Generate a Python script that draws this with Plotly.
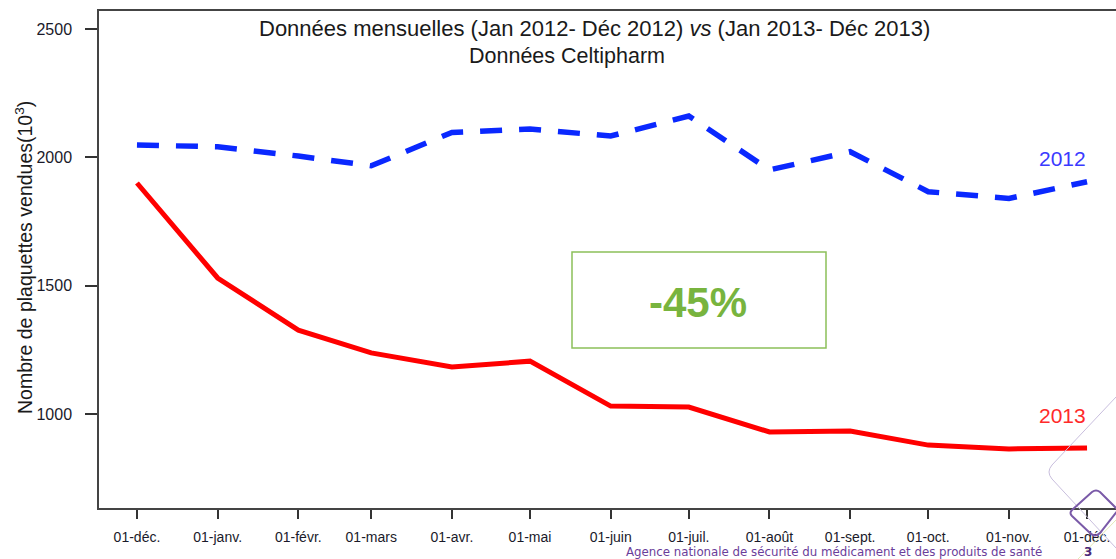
import plotly.graph_objects as go

# Monthly dates (first day of each month) shared by both series
mois = ["2012-12-01", "2013-01-01", "2013-02-01", "2013-03-01", "2013-04-01",
        "2013-05-01", "2013-06-01", "2013-07-01", "2013-08-01", "2013-09-01",
        "2013-10-01", "2013-11-01", "2013-12-01"]
etiquettes_mois = ["01-déc.", "01-janv.", "01-févr.", "01-mars", "01-avr.", "01-mai",
                   "01-juin", "01-juil.", "01-août", "01-sept.", "01-oct.", "01-nov.",
                   "01-déc."]

# Plaquettes vendues (milliers)
ventes_2012 = [2048, 2041, 2005, 1967, 2097, 2110, 2083, 2161, 1951, 2022, 1866, 1840, 1905]
ventes_2013 = [1900, 1530, 1327, 1238, 1183, 1206, 1031, 1027, 930, 934, 879, 864, 868]

y_ticks = [1000, 1500, 2000, 2500]

W, H = 1116, 559
L, R, T, B = 99, 0, 11, 51
PW, PH = W - L - R, H - T - B


def px(x):
    return (x - L) / PW


def py(y):
    return (H - B - y) / PH


FONT = "Liberation Sans, Arial, sans-serif"
FONT_PIED = "DejaVu Sans, Verdana, sans-serif"

fig = go.Figure()
fig.add_trace(go.Scatter(
    x=mois, y=ventes_2012, mode="lines", name="2012",
    line=dict(color="#0a28ff", width=5.5, dash="22px,17px"),
))
fig.add_trace(go.Scatter(
    x=mois, y=ventes_2013, mode="lines", name="2013",
    line=dict(color="#ff0000", width=5),
))

annotations = [
    dict(text="Données mensuelles (Jan 2012- Déc 2012) <i>vs</i> (Jan 2013- Déc 2013)",
         x=px(594), y=py(28), font=dict(size=22, color="#1a1a1a")),
    dict(text="Données Celtipharm",
         x=px(567), y=py(56), font=dict(size=21.5, color="#1a1a1a")),
    dict(text="Nombre de plaquettes vendues(10<sup>3</sup>)", textangle=-90,
         x=px(24), y=py(258), font=dict(size=19.5, color="#1a1a1a")),
    dict(text="2012", x=px(1062), y=py(159), font=dict(size=21, color="#3a3aff")),
    dict(text="2013", x=px(1062), y=py(415), font=dict(size=21, color="#ff2a2a")),
    dict(text="<b>-45%</b>", x=px(698), y=py(302), font=dict(size=42, color="#78b43e")),
    dict(text="Agence nationale de sécurité du médicament et des produits de santé",
         x=px(834), y=py(552), font=dict(size=11.8, color="#6a3d9a", family=FONT_PIED)),
    dict(text="<b>3</b>", x=px(1088), y=py(552),
         font=dict(size=12, color="#4b2a78", family=FONT_PIED)),
]
for a in annotations:
    a.update(xref="paper", yref="paper", showarrow=False, xanchor="center",
             yanchor="middle")
    a["font"].setdefault("family", FONT)

shapes = [
    # boîte du pourcentage
    dict(type="rect", xref="paper", yref="paper",
         x0=px(572), x1=px(826), y0=py(348), y1=py(252),
         line=dict(color="#8cc05a", width=1.5), fillcolor="rgba(0,0,0,0)"),
    # décor du bas de diapositive
    dict(type="path", xref="paper", yref="paper", layer="above",
         path=(f"M {px(1116)} {py(397)} L {px(1052)} {py(465)} "
               f"Q {px(1046)} {py(472)} {px(1052)} {py(479)} L {px(1116)} {py(548)}"),
         line=dict(color="#c8bedd", width=1)),
    dict(type="path", xref="paper", yref="paper", layer="above",
         path=(f"M {px(1092)} {py(492)} Q {px(1096)} {py(489)} {px(1100)} {py(492)} "
               f"L {px(1118)} {py(510)} L {px(1100)} {py(533)} "
               f"Q {px(1095)} {py(538)} {px(1090)} {py(533)} L {px(1072)} {py(516)} "
               f"Q {px(1069)} {py(513)} {px(1072)} {py(510)} Z"),
         line=dict(color="#7a5aa8", width=2)),
    dict(type="path", xref="paper", yref="paper", layer="above",
         path=f"M {px(1116)} {py(520)} L {px(1078)} {py(559)}",
         line=dict(color="#e3eab8", width=1)),
]

fig.update_layout(
    width=W, height=H,
    margin=dict(l=L, r=R, t=T, b=B, pad=0),
    paper_bgcolor="white", plot_bgcolor="white",
    showlegend=False,
    font=dict(family=FONT, color="#1a1a1a"),
    annotations=annotations,
    shapes=shapes,
    xaxis=dict(
        type="date",
        range=["2012-11-16 10:00", "2013-12-12 03:00"],
        tickmode="array", tickvals=mois, ticktext=etiquettes_mois,
        ticks="outside", ticklen=9, tickwidth=1.5, tickcolor="#333333",
        showline=True, linecolor="#444444", linewidth=1.5, mirror=True,
        showgrid=False, zeroline=False, automargin=False,
        tickfont=dict(size=14, color="#1a1a2a"), ticklabelstandoff=6,
    ),
    yaxis=dict(
        range=[634, 2570],
        tickmode="array", tickvals=y_ticks,
        ticks="outside", ticklen=12, tickwidth=1.5, tickcolor="#333333",
        showline=True, linecolor="#444444", linewidth=1.5, mirror=False,
        showgrid=False, zeroline=False, automargin=False,
        tickfont=dict(size=16, color="#1a1a2a"), ticklabelstandoff=10,
    ),
)

fig.write_html("out.html")
